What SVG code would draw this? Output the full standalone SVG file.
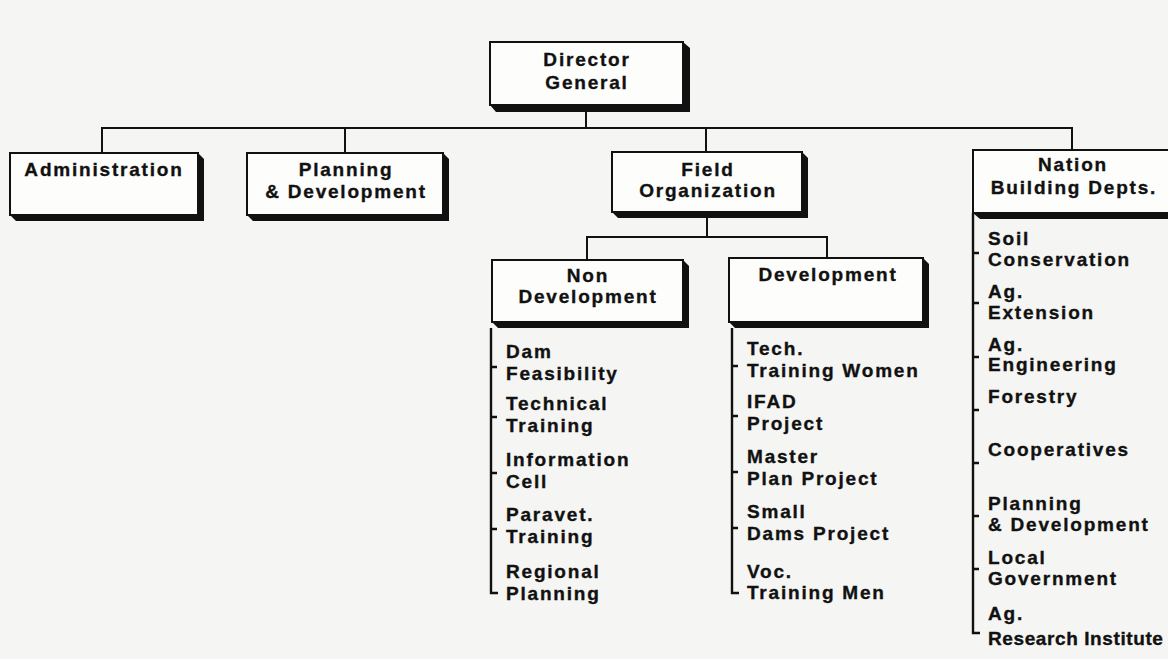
<svg xmlns="http://www.w3.org/2000/svg" width="1168" height="659" viewBox="0 0 1168 659">
  <style>
    .bg { fill: #f5f5f3; }
    .box { fill: #fdfdfc; stroke: #111; stroke-width: 2; }
    .shadow { fill: #111; }
    .wire { fill: none; stroke: #111; stroke-width: 2; }
    .bracket { fill: none; stroke: #111; stroke-width: 2.4; }
    text { font-family: "Liberation Sans", Arial, Helvetica, sans-serif; font-weight: bold; font-size: 19px; letter-spacing: 1.8px; fill: #111; stroke: #111; stroke-width: 0.35; }
    .c { text-anchor: middle; }
    .tight { letter-spacing: 0.6px; }
  </style>

  <rect class="bg" x="0" y="0" width="1168" height="659"/>

  <!-- connectors -->
  <g id="connectors">
    <path class="wire" d="M586 105 V128"/>
    <path class="wire" d="M102 153 V128 H1072 V150"/>
    <path class="wire" d="M345 128 V153"/>
    <path class="wire" d="M706 128 V152"/>
    <path class="wire" d="M707 212 V237"/>
    <path class="wire" d="M587 260 V237 H827 V258"/>
  </g>

  <!-- Director General -->
  <g id="director-general">
    <polygon class="shadow" points="683,42 690,48 690,112 496,112 490,105"/>
    <rect class="box" x="490" y="42" width="193" height="63"/>
    <text class="c" x="587" y="66">Director</text>
    <text class="c" x="587" y="89">General</text>
  </g>

  <!-- Administration -->
  <g id="administration">
    <polygon class="shadow" points="198,153 204,159 204,221 16,221 10,215"/>
    <rect class="box" x="10" y="153" width="188" height="62"/>
    <text class="c" x="104" y="176">Administration</text>
  </g>

  <!-- Planning & Development -->
  <g id="planning-development">
    <polygon class="shadow" points="443,153 449,159 449,221 253,221 247,215"/>
    <rect class="box" x="247" y="153" width="196" height="62"/>
    <text class="c" x="346" y="176">Planning</text>
    <text class="c" x="346" y="198">&amp; Development</text>
  </g>

  <!-- Field Organization -->
  <g id="field-organization">
    <polygon class="shadow" points="802,152 808,158 808,218 618,218 612,212"/>
    <rect class="box" x="612" y="152" width="190" height="60"/>
    <text class="c" x="708" y="176">Field</text>
    <text class="c" x="708" y="197">Organization</text>
  </g>

  <!-- Nation Building Depts. -->
  <g id="nation-building">
    <polygon class="shadow" points="973,213 980,219 1175,219 1175,213"/>
    <rect class="box" x="973" y="150" width="210" height="63"/>
    <text class="c" x="1073" y="171">Nation</text>
    <text class="c" x="1074" y="194">Building Depts.</text>
    <path class="bracket" d="M973 213 V633 H980"/>
    <path class="bracket" d="M973 253 H979 M973 303 H979 M973 357 H979 M973 410 H979 M973 463 H979 M973 516 H979 M973 569 H979"/>
    <text x="988" y="245">Soil</text>
    <text x="988" y="266">Conservation</text>
    <text x="988" y="298">Ag.</text>
    <text x="988" y="319">Extension</text>
    <text x="988" y="351">Ag.</text>
    <text x="988" y="371">Engineering</text>
    <text x="988" y="403">Forestry</text>
    <text x="988" y="456">Cooperatives</text>
    <text x="988" y="510">Planning</text>
    <text x="988" y="531">&amp; Development</text>
    <text x="988" y="564">Local</text>
    <text x="988" y="585">Government</text>
    <text x="988" y="620">Ag.</text>
    <text class="tight" x="988" y="645">Research Institute</text>
  </g>

  <!-- Non Development -->
  <g id="non-development">
    <polygon class="shadow" points="683,260 689,266 689,328 498,328 492,322"/>
    <rect class="box" x="492" y="260" width="191" height="62"/>
    <text class="c" x="588" y="282">Non</text>
    <text class="c" x="588" y="303">Development</text>
    <path class="bracket" d="M491 328 V593 H498"/>
    <path class="bracket" d="M491 367 H497 M491 417 H497 M491 473 H497 M491 529 H497"/>
    <text x="506" y="358">Dam</text>
    <text x="506" y="380">Feasibility</text>
    <text x="506" y="410">Technical</text>
    <text x="506" y="432">Training</text>
    <text x="506" y="466">Information</text>
    <text x="506" y="488">Cell</text>
    <text x="506" y="521">Paravet.</text>
    <text x="506" y="543">Training</text>
    <text x="506" y="578">Regional</text>
    <text x="506" y="600">Planning</text>
  </g>

  <!-- Development -->
  <g id="development">
    <polygon class="shadow" points="923,258 929,264 929,328 735,328 729,322"/>
    <rect class="box" x="729" y="258" width="194" height="64"/>
    <text class="c" x="828" y="281">Development</text>
    <path class="bracket" d="M732 328 V593 H739"/>
    <path class="bracket" d="M732 366 H738 M732 416 H738 M732 472 H738 M732 528 H738"/>
    <text x="747" y="355">Tech.</text>
    <text x="747" y="377">Training Women</text>
    <text x="747" y="408">IFAD</text>
    <text x="747" y="430">Project</text>
    <text x="747" y="463">Master</text>
    <text x="747" y="485">Plan Project</text>
    <text x="747" y="518">Small</text>
    <text x="747" y="540">Dams Project</text>
    <text x="747" y="578">Voc.</text>
    <text x="747" y="599">Training Men</text>
  </g>
</svg>
